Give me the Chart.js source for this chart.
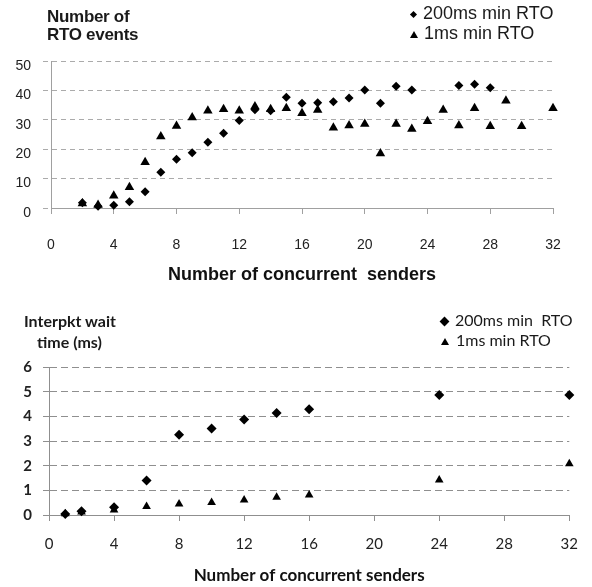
<!DOCTYPE html>
<html>
<head>
<meta charset="utf-8">
<title>RTO events and interpacket wait</title>
<script src="https://cdn.jsdelivr.net/npm/chart.js@4/dist/chart.umd.min.js"></script>
<style>
  body { margin: 0; background: #fff; width: 592px; height: 587px; position: relative; overflow: hidden; }
  canvas { position: absolute; left: 0; }
  #rtoChart { top: 0; }
  #waitChart { top: 290px; }
  .txt { position: absolute; color: #1a1a1a; white-space: nowrap; }
  .arial { font-family: "Liberation Sans", Arial, sans-serif; }
  .lato { font-family: Lato, "Noto Sans", sans-serif; }
  .dia { display: inline-block; background: #000; transform: rotate(45deg); vertical-align: middle; }
  .tri { display: inline-block; width: 0; height: 0; border-style: solid; border-color: transparent transparent #000 transparent; vertical-align: middle; }
</style>
</head>
<body>

<canvas id="rtoChart" width="592" height="290"></canvas>
<canvas id="waitChart" width="592" height="297"></canvas>

<!-- top panel: axis caption + legend -->
<div class="txt arial" style="left:47px; top:8px; font-size:17px; font-weight:bold; line-height:18px; letter-spacing:-0.3px;">Number of<br>RTO events</div>
<div class="txt arial" style="left:410px; top:3px; font-size:18px; line-height:20px;">
  <div><span class="dia" style="width:5px; height:5px; margin:0 7px 0 1px;"></span>200ms min RTO</div>
  <div><span class="tri" style="border-width:0 4px 7px 4px; margin:0 6px 0 0;"></span>1ms min RTO</div>
</div>

<!-- bottom panel: axis caption + legend -->
<div class="txt lato" style="left:24px; top:310px; font-size:16px; font-weight:bold; line-height:21px;">Interpkt wait<br><span style="padding-left:13px;">time (ms)</span></div>
<div class="txt lato" style="left:440px; top:310px; font-size:16px; line-height:20px;">
  <div><span class="dia" style="width:7px; height:7px; margin:0 7px 0 1px;"></span>200ms min&nbsp; RTO</div>
  <div><span class="tri" style="border-width:0 4px 7px 4px; margin:0 7px 0 1px;"></span>1ms min RTO</div>
</div>

<script>
// ---------- RTO events vs concurrent senders ----------
const rtoSenders200 = [2, 3, 4, 5, 6, 7, 8, 9, 10, 11, 12, 13, 14, 15, 16, 17, 18, 19, 20, 21, 22, 23, 26, 27, 28];
const rtoEvents200  = [1.8, 0.6, 0.9, 2.1, 5.5, 12.2, 16.6, 18.8, 22.4, 25.4, 29.8, 33.4, 33.1, 37.7, 35.6, 35.8, 36.1, 37.4, 40.1, 35.6, 41.4, 40.1, 41.7, 42.1, 40.9];

const rtoSenders1 = [2, 3, 4, 5, 6, 7, 8, 9, 10, 11, 12, 13, 14, 15, 16, 17, 18, 19, 20, 21, 22, 23, 24, 25, 26, 27, 28, 29, 30, 32];
const rtoEvents1  = [1.5, 1.0, 4.2, 7.1, 15.6, 24.3, 27.9, 30.8, 33.1, 33.6, 33.1, 34.5, 33.6, 33.9, 32.2, 33.3, 27.3, 28.1, 28.6, 18.5, 28.6, 26.9, 29.5, 33.3, 28.1, 33.9, 27.8, 36.5, 27.8, 33.9];

// ---------- interpacket wait time vs concurrent senders ----------
const waitSenders = [1, 2, 4, 6, 8, 10, 12, 14, 16, 24, 32];
const wait200     = [0.04, 0.15, 0.31, 1.40, 3.25, 3.51, 3.87, 4.14, 4.29, 4.86, 4.86];
const wait1       = [0.05, 0.12, 0.20, 0.34, 0.45, 0.51, 0.61, 0.72, 0.81, 1.42, 2.08];

const xTicks = [0, 4, 8, 12, 16, 20, 24, 28, 32];

const ARIAL = '"Liberation Sans", Arial, sans-serif';
const LATO = 'Lato, "Noto Sans", sans-serif';

function series(label, xs, ys, style, r) {
    return {
        label: label,
        data: xs.map((x, i) => ({ x: x, y: ys[i] })),
        pointStyle: style,
        pointRadius: r,
        pointHoverRadius: r,
        backgroundColor: '#000',
        borderColor: '#000',
        borderWidth: 0,
        showLine: false,
        clip: false
    };
}

function xAxis(tickFont, title, titleFont, o) {
    return {
        type: 'linear', min: 0, max: 32,
        afterBuildTicks: s => { s.ticks = xTicks.map(v => ({ value: v })); },
        ticks: { color: '#222', font: tickFont, padding: o.pad, maxRotation: 0, autoSkip: false },
        grid: { drawOnChartArea: false, drawTicks: true, tickLength: o.tick, color: o.line },
        border: { color: o.line },
        title: { display: true, text: title, color: '#111', font: titleFont, padding: { top: 0, bottom: o.titlePad } },
        afterFit: s => { s.height = o.height; }
    };
}

// top chart
new Chart(document.getElementById('rtoChart'), {
    type: 'scatter',
    data: {
        datasets: [
            series('200ms min RTO', rtoSenders200, rtoEvents200, 'rectRot', 4.5),
            series('1ms min RTO', rtoSenders1, rtoEvents1, 'triangle', 5.5)
        ]
    },
    options: {
        responsive: false,
        animation: false,
        events: [],
        layout: { padding: { top: 61, right: 39, left: 0, bottom: 0 } },
        plugins: { legend: { display: false }, tooltip: { enabled: false } },
        scales: {
            x: xAxis({ family: ARIAL, size: 14 }, 'Number of concurrent  senders',
                     { family: ARIAL, size: 18, weight: 'bold' },
                     { pad: 23, tick: 6, line: '#a0a0a0', titlePad: 4, height: 82 }),
            y: {
                min: 0, max: 50,
                ticks: { stepSize: 10, padding: 12, labelOffset: 5, color: '#222', font: { family: ARIAL, size: 14 } },
                grid: { color: '#ababab', tickLength: 8, tickBorderDash: [5, 4] },
                border: { color: '#a0a0a0', dash: [5, 4] },
                afterFit: s => { s.width = 51; }
            }
        }
    }
});

// bottom chart
new Chart(document.getElementById('waitChart'), {
    type: 'scatter',
    data: {
        datasets: [
            series('200ms min RTO', waitSenders, wait200, 'rectRot', 5),
            series('1ms min RTO', waitSenders, wait1, 'triangle', 5)
        ]
    },
    options: {
        responsive: false,
        animation: false,
        events: [],
        layout: { padding: { top: 77, right: 18, left: 0, bottom: 0 } },
        plugins: { legend: { display: false }, tooltip: { enabled: false } },
        scales: {
            x: xAxis({ family: LATO, size: 15 }, 'Number of concurrent senders',
                     { family: LATO, size: 17, weight: 'bold' },
                     { pad: 14, tick: 6, line: '#8f8f8f', titlePad: 1, height: 72 }),
            y: {
                min: 0, max: 6,
                ticks: { stepSize: 1, padding: 11, color: '#222', font: { family: LATO, size: 15, weight: 'bold' } },
                grid: { color: '#8f8f8f', tickLength: 6, tickBorderDash: [7, 4] },
                border: { color: '#8f8f8f', dash: [7, 4] },
                afterFit: s => { s.width = 49; }
            }
        }
    }
});
</script>
</body>
</html>
